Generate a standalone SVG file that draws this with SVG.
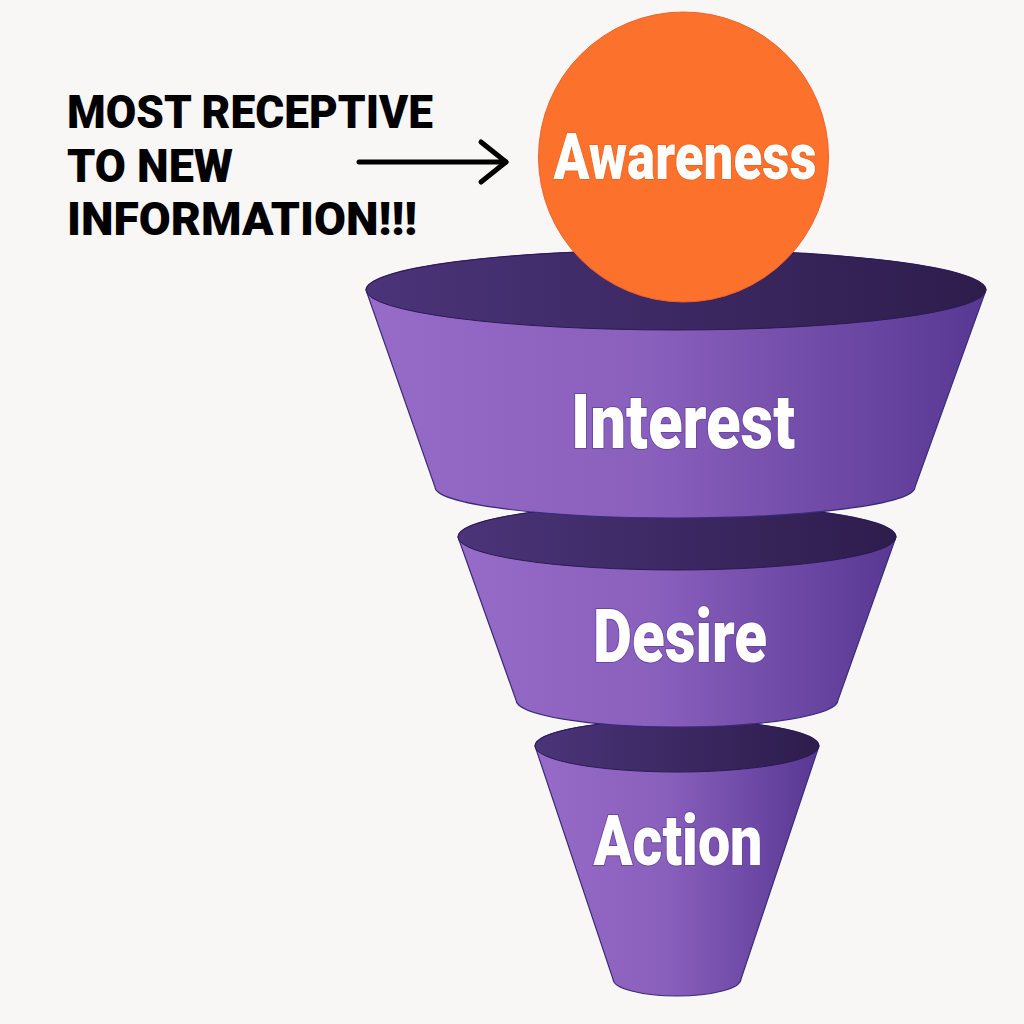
<svg xmlns="http://www.w3.org/2000/svg" width="1024" height="1024" viewBox="0 0 1024 1024">
  <defs>
    <linearGradient id="body" x1="0" y1="0" x2="1" y2="0">
      <stop offset="0" stop-color="#976BC8"/>
      <stop offset="0.45" stop-color="#8A60BD"/>
      <stop offset="1" stop-color="#573892"/>
    </linearGradient>
    <linearGradient id="inner" x1="0" y1="0" x2="1" y2="0">
      <stop offset="0" stop-color="#4B3479"/>
      <stop offset="1" stop-color="#2D1D4C"/>
    </linearGradient>
  </defs>
  <style>
    .body { fill: url(#body); stroke: #3A2A7A; stroke-width: 1.2; }
    .rim { fill: url(#inner); stroke: #2A1A55; stroke-width: 1; }
    .lbl { font-family: Roboto, "Liberation Sans", sans-serif; font-weight: 900; fill: #ffffff; text-anchor: middle; paint-order: stroke; stroke: #6A45A8; stroke-width: 2; }
    .note { font-family: Roboto, "Liberation Sans", sans-serif; font-weight: 900; fill: #000000; font-size: 47px; }
  </style>
  <rect width="1024" height="1024" fill="#F8F7F5"/>

  <g id="connectors">
    <line x1="359" y1="162" x2="506" y2="162" stroke="#000" stroke-width="5" stroke-linecap="round"/>
    <path d="M481,142 L506,162 L481,182" fill="none" stroke="#000" stroke-width="5" stroke-linecap="round" stroke-linejoin="round"/>
  </g>

  <g id="note">
    <text class="note" x="67" y="128" textLength="366" lengthAdjust="spacingAndGlyphs">MOST RECEPTIVE</text>
    <text class="note" x="67" y="182" textLength="166" lengthAdjust="spacingAndGlyphs">TO NEW</text>
    <text class="note" x="67" y="235" textLength="350" lengthAdjust="spacingAndGlyphs">INFORMATION!!!</text>
  </g>

  <g id="action">
    <path class="body" d="M535,746 L613,979 A64,17 0 0 0 741,979 L819,746 A142,26 0 0 0 535,746 Z"/>
    <ellipse class="rim" cx="677" cy="746" rx="142" ry="26"/>
    <text class="lbl" x="678" y="865" font-size="70" textLength="169" lengthAdjust="spacingAndGlyphs">Action</text>
  </g>

  <g id="desire">
    <path class="body" d="M458,537 L516,700 A161,27 0 0 0 838,700 L896,537 A219,33 0 0 0 458,537 Z"/>
    <ellipse class="rim" cx="677" cy="537" rx="219" ry="33"/>
    <text class="lbl" x="680" y="662" font-size="74" textLength="174" lengthAdjust="spacingAndGlyphs">Desire</text>
  </g>

  <g id="interest">
    <path class="body" d="M366,290 L435,487 A240,31 0 0 0 915,487 L986,290 A310,40 0 0 0 366,290 Z"/>
    <ellipse class="rim" cx="676" cy="290" rx="310" ry="40"/>
    <text class="lbl" x="683" y="448" font-size="76" textLength="224" lengthAdjust="spacingAndGlyphs">Interest</text>
  </g>

  <g id="awareness">
    <circle cx="683.5" cy="157" r="145" fill="#FC722D" stroke="#F2602A" stroke-width="1"/>
    <text class="lbl" x="685" y="179" font-size="64" textLength="263" lengthAdjust="spacingAndGlyphs" style="stroke:#E8621F;stroke-width:1.5">Awareness</text>
  </g>
</svg>
